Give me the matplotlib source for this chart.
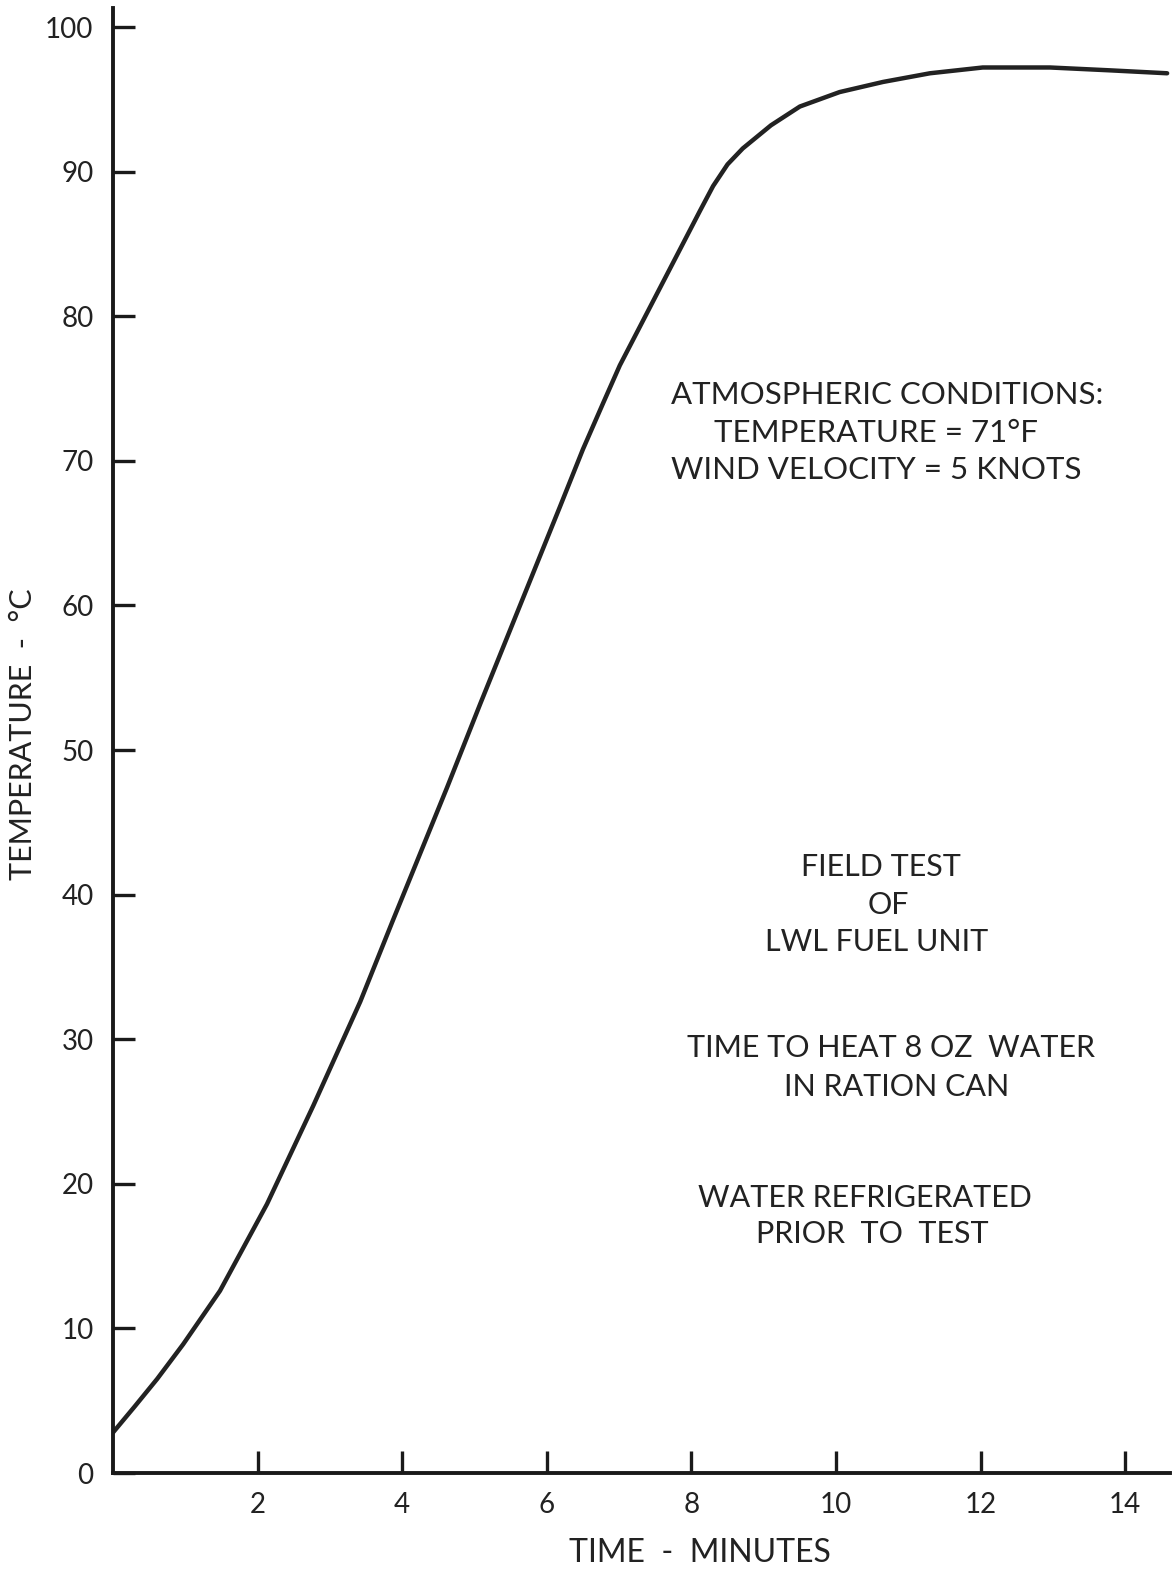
import numpy as np
import matplotlib
matplotlib.use('Agg')
import matplotlib.pyplot as plt

plt.rcParams['font.family'] = ['Lato', 'DejaVu Sans']

# curve: time (minutes) vs water temperature (deg C)
time_min = [0.0, 0.3, 0.61, 0.97, 1.48, 2.13, 2.77, 3.42, 3.87, 4.62, 5.08, 5.63,
            6.18, 6.50, 6.78, 7.01, 7.57, 8.12, 8.30, 8.50, 8.71, 9.10, 9.5, 10.05,
            10.65, 11.3, 12.03, 12.96, 13.8, 14.58]
temp_c = [2.8, 4.6, 6.5, 8.9, 12.6, 18.6, 25.4, 32.6, 38.2, 47.4, 53.2, 60.0,
          66.8, 70.8, 74.0, 76.6, 82.0, 87.3, 89.0, 90.5, 91.6, 93.2, 94.5, 95.5,
          96.2, 96.8, 97.2, 97.2, 97.0, 96.8]

x_ticks = [2, 4, 6, 8, 10, 12, 14]
y_ticks = [0, 10, 20, 30, 40, 50, 60, 70, 80, 90, 100]

W, H = 1175, 1578
fig = plt.figure(figsize=(W / 100, H / 100), dpi=100)
fig.patch.set_facecolor('white')

# axes box in pixels: origin (113, 1473), top 8, right 1170
ax = fig.add_axes([113 / W, 1 - 1473 / H, (1170 - 113) / W, (1473 - 8) / H])
ax.plot(time_min, temp_c, color='#222222', linewidth=3.2,
        solid_capstyle='round', solid_joinstyle='round')
ax.set_xlim(0, (1170 - 113) / 72.3)
ax.set_ylim(0, (1473 - 8) / 14.46)

for side in ['top', 'right']:
    ax.spines[side].set_visible(False)
for side in ['left', 'bottom']:
    ax.spines[side].set_linewidth(2.8)
    ax.spines[side].set_color('#1a1a1a')

ax.set_xticks(x_ticks)
ax.set_yticks(y_ticks)
ax.tick_params(axis='both', direction='in', length=16, width=2.4, colors='#1a1a1a',
               labelsize=20)
ax.tick_params(axis='y', pad=14)
ax.tick_params(axis='x', pad=14)
for lab in ax.get_xticklabels() + ax.get_yticklabels():
    lab.set_color('#222222')


def px_text(x, y, s, size=22, ha='center', **kw):
    fig.text(x / W, 1 - y / H, s, ha=ha, va='center', fontsize=size, color='#222222', **kw)


px_text(700, 1553, 'TIME  -  MINUTES', size=23)
px_text(23, 734, 'TEMPERATURE  -  °C', size=22, rotation=90)

px_text(671, 395, 'ATMOSPHERIC CONDITIONS:', ha='left', size=22.5)
px_text(714, 433, 'TEMPERATURE = 71°F', ha='left', size=22.5)
px_text(671, 470, 'WIND VELOCITY = 5 KNOTS', ha='left', size=22.5)

px_text(881, 867, 'FIELD TEST')
px_text(888, 905, 'OF')
px_text(877, 942, 'LWL FUEL UNIT')

px_text(891, 1048, 'TIME TO HEAT 8 OZ  WATER')
px_text(897, 1087, 'IN RATION CAN')

px_text(865, 1198, 'WATER REFRIGERATED')
px_text(872, 1234, 'PRIOR  TO  TEST')

fig.savefig('out.png', dpi=100, facecolor='white')
